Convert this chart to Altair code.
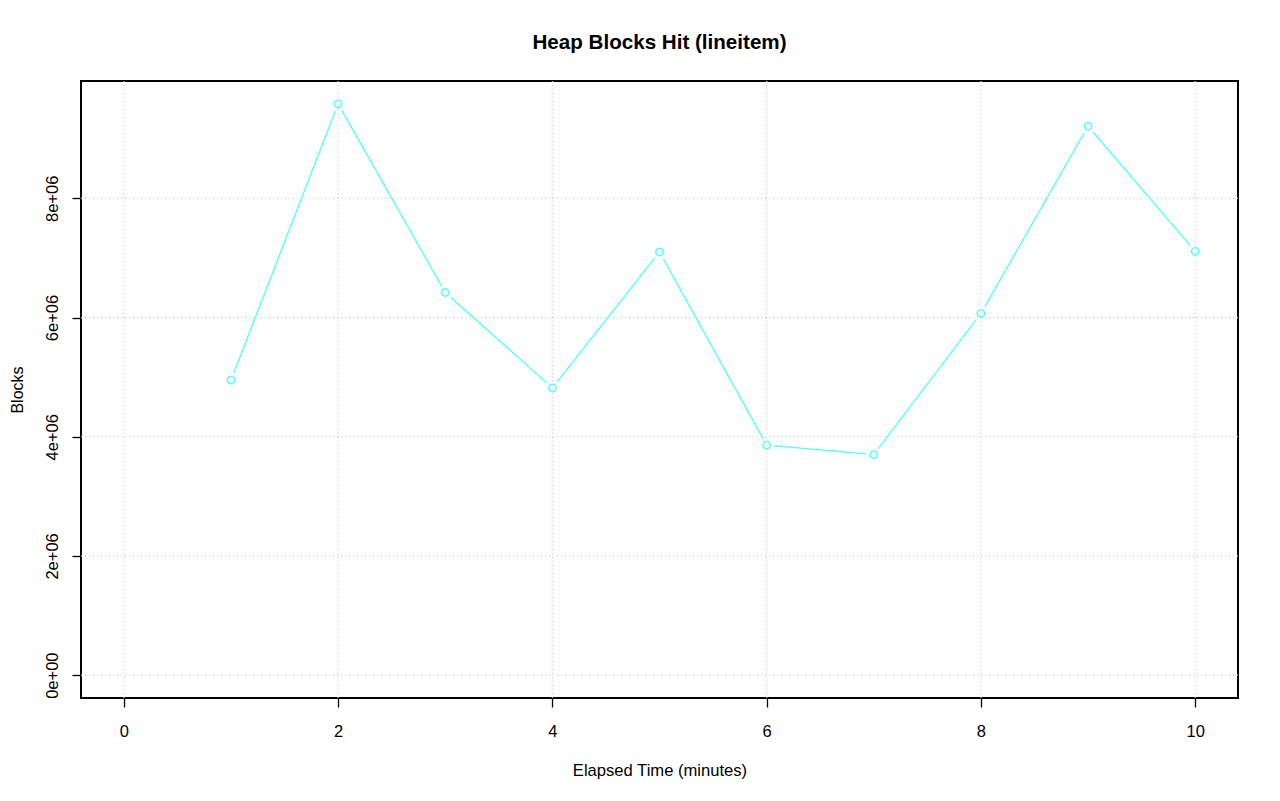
import altair as alt
import pandas as pd

minutes = [1, 2, 3, 4, 5, 6, 7, 8, 9, 10]
blocks = [4.95e6, 9.585e6, 6.42e6, 4.82e6, 7.10e6, 3.86e6, 3.70e6, 6.07e6, 9.21e6, 7.11e6]
x_ticks = [0, 2, 4, 6, 8, 10]
y_ticks = [0, 2e6, 4e6, 6e6, 8e6]

df = pd.DataFrame({"t": minutes, "b": blocks})
gx = pd.DataFrame({"v": x_ticks})
gy = pd.DataFrame({"v": y_ticks})

CYAN = "#4dffff"
FONT = "Liberation Sans"
W, H = 1157, 617

xs = alt.Scale(domain=[-0.4, 10.4], nice=False, zero=False)
ys = alt.Scale(domain=[-0.3834e6, 9.9684e6], nice=False, zero=False)

x_axis = alt.Axis(values=x_ticks, format="d", title="Elapsed Time (minutes)", grid=False, domain=False,
                  tickSize=9, tickColor="black", tickWidth=1.3, labelPadding=16,
                  labelFontSize=16.5, labelFont=FONT, labelColor="black",
                  titleFont=FONT, titleFontSize=16.6, titleFontWeight="normal", titleColor="black",
                  titleY=77, titleBaseline="alphabetic")
y_axis = alt.Axis(values=y_ticks, title="Blocks", grid=False, domain=False,
                  tickSize=9, tickColor="black", tickWidth=1.3, labelPadding=15,
                  labelAngle=-90, labelAlign="center", labelBaseline="alphabetic",
                  labelExpr="datum.value == 0 ? '0e+00' : format(datum.value/1e6, 'd') + 'e+06'",
                  labelFontSize=16.5, labelFont=FONT, labelColor="black",
                  titleFont=FONT, titleFontSize=16, titleFontWeight="normal", titleColor="black",
                  titleX=-59, titleY=H / 2, titleAngle=-90, titleBaseline="alphabetic", titleAlign="center")

base = alt.Chart(df)

line = base.mark_line(color=CYAN, strokeWidth=1.3).encode(
    x=alt.X("t:Q", scale=xs, axis=x_axis),
    y=alt.Y("b:Q", scale=ys, axis=y_axis),
)
gaps = base.mark_circle(color="white", opacity=1, size=240).encode(
    x=alt.X("t:Q", scale=xs), y=alt.Y("b:Q", scale=ys))

gridx = alt.Chart(gx).mark_rule(color="#c8c8c8", strokeDash=[1, 3], strokeWidth=1.2).encode(
    x=alt.X("v:Q", scale=xs))
gridy = alt.Chart(gy).mark_rule(color="#c8c8c8", strokeDash=[1, 3], strokeWidth=1.2).encode(
    y=alt.Y("v:Q", scale=ys))

pts = base.mark_point(shape="circle", filled=False, color=CYAN, strokeWidth=1.4, size=55, opacity=1).encode(
    x=alt.X("t:Q", scale=xs), y=alt.Y("b:Q", scale=ys))

chart = alt.layer(line, gaps, gridx, gridy, pts).properties(
    width=W, height=H,
    background="white",
    autosize=alt.AutoSizeParams(type="none"),
    padding={"left": 73, "top": 73, "right": 26, "bottom": 88},
    title=alt.TitleParams("Heap Blocks Hit (lineitem)", font=FONT, fontSize=20.6, fontWeight="bold",
                          color="black", anchor="middle", baseline="alphabetic", offset=11),
).configure_view(stroke="black", strokeWidth=2)

chart.save("out.html", embed_options={"renderer": "svg", "actions": False})
